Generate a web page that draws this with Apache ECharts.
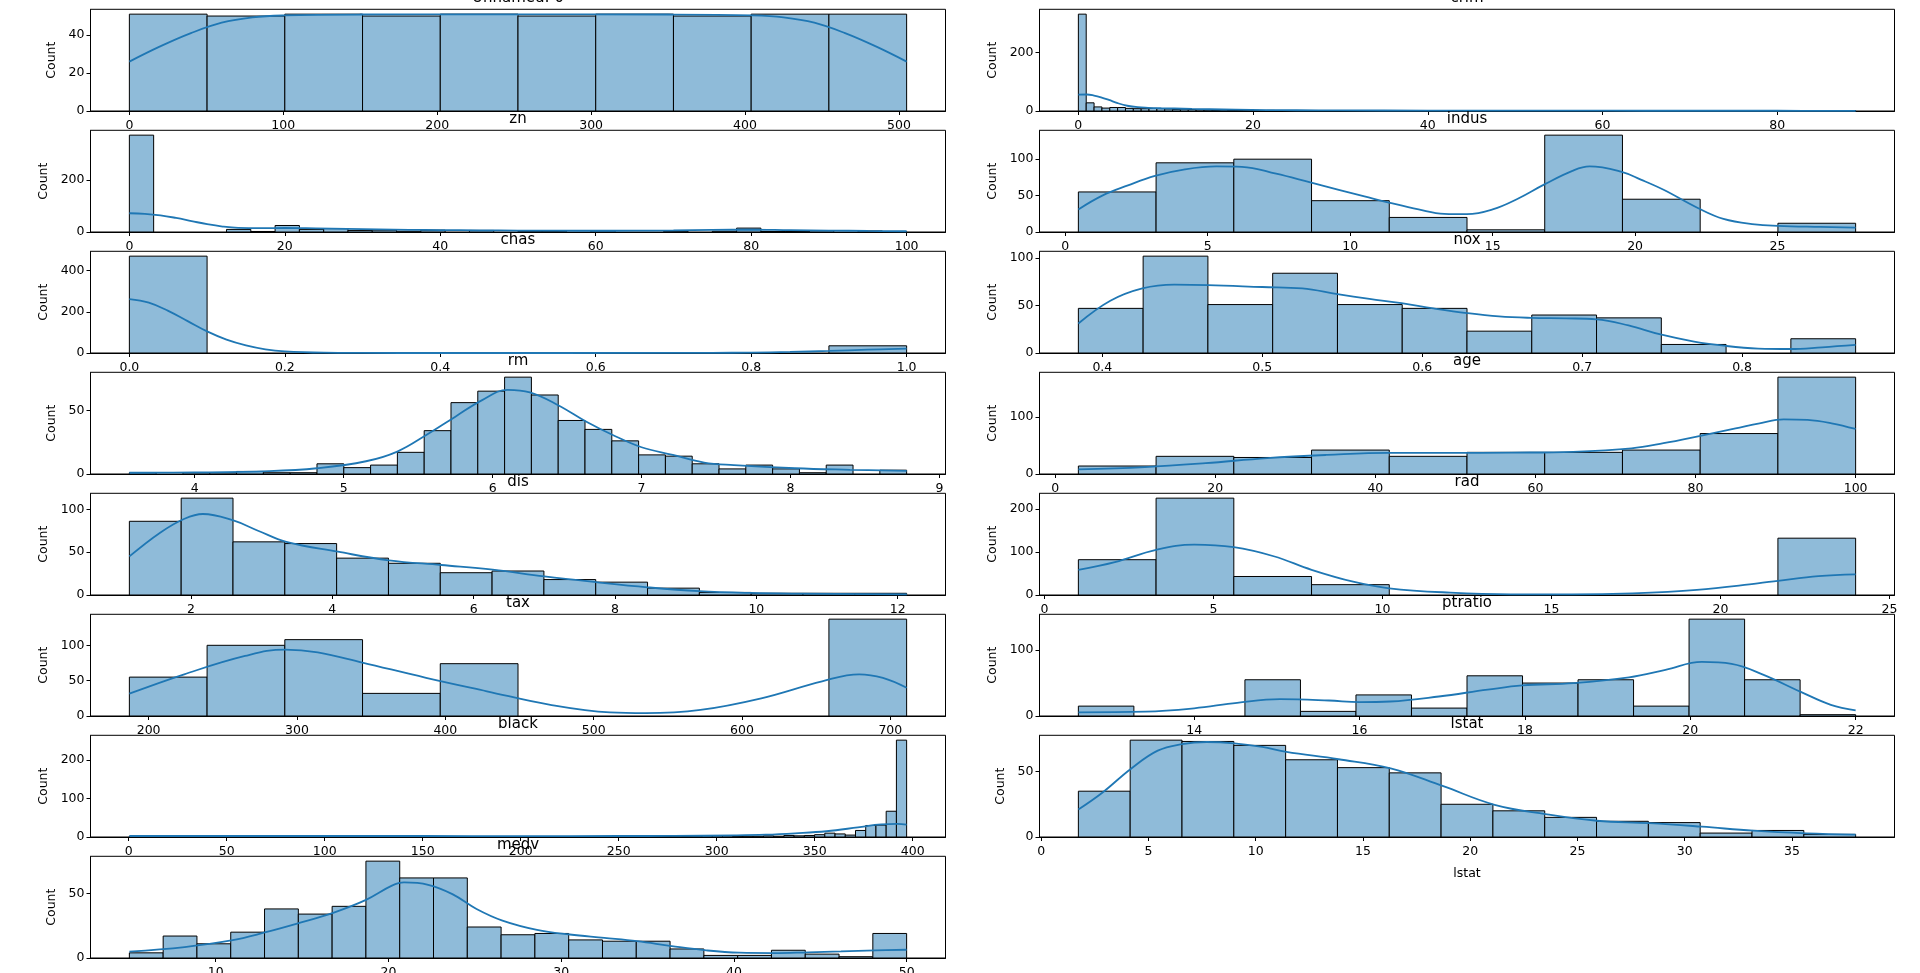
<!DOCTYPE html>
<html>
<head>
<meta charset="utf-8">
<title>Boston histograms</title>
<script src="https://cdn.jsdelivr.net/npm/echarts@6/dist/echarts.min.js"></script>
<style>
  html, body { margin: 0; padding: 0; background: #fff; }
  #chart { width: 1920px; height: 973px; }
</style>
</head>
<body>
<div id="chart"></div>
<script>
// data: [lo, hi] of the bins, bin counts, kde points, ticks
const unnamedRange = [0, 505]
const unnamedCounts = [51, 50, 51, 50, 51, 50, 51, 50, 51, 51]
const unnamedKde = [[0, 26], [20, 34], [40, 41], [60, 46.5], [80, 49.3], [100, 50.3], [150, 50.8], [250, 50.9], [350, 50.8], [405, 50.3], [425, 49.3], [445, 46.5], [465, 41], [485, 34], [505, 26]]
const unnamedXTicks = [0, 100, 200, 300, 400, 500]
const unnamedYTicks = [0, 20, 40]

const crimRange = [0.00632, 88.9762]
const crimCounts = [
  332, 28, 14, 10, 12, 12, 9, 8, 8, 9,
  8, 7, 5, 6, 5, 4, 3, 2, 3, 2,
  2, 1, 2, 1, 2, 1, 0, 1, 1, 0,
  0, 0, 0, 0, 0, 0, 0, 0, 0, 0,
  0, 1, 1, 0, 0, 1, 0, 0, 0, 0,
  1, 0, 0, 0, 0, 0, 1, 0, 0, 0,
  0, 0, 0, 0, 0, 0, 0, 0, 0, 0,
  0, 0, 0, 0, 0, 1, 0, 0, 0, 0,
  0, 0, 1, 0, 0, 0, 0, 0, 0, 0,
  0, 0, 0, 0, 0, 0, 0, 0, 1
]
const crimKde = [[0.006, 56], [1, 56.5], [1.8, 53], [2.6, 47], [3.5, 38], [4.5, 27], [5.6, 18], [6.8, 13], [8, 11], [9.5, 9.5], [11, 8.5], [13, 7], [15, 6], [18, 4.5], [21.6, 3.2], [25, 2.6], [30, 2], [40, 1.5], [50, 1.2], [60, 1], [70, 0.9], [80, 0.8], [88.98, 0.7]]
const crimXTicks = [0, 20, 40, 60, 80]
const crimYTicks = [0, 200]

const znRange = [0, 100]
const znCounts = [372, 0, 0, 0, 10, 2, 25, 10, 13, 6, 7, 3, 7, 0, 6, 0, 3, 3, 0, 4, 0, 0, 3, 0, 3, 15, 2, 2, 5, 0, 4, 1]
const znKde = [[0, 72], [2, 70], [4, 64], [6, 54], [8, 42], [10, 30], [12, 21], [14, 16], [17, 15], [20, 15.5], [24, 14], [28, 12], [32, 10], [36, 8.5], [40, 7.5], [45, 6.5], [50, 5.5], [55, 5], [60, 4.8], [65, 5], [70, 6], [75, 8], [80, 9], [85, 7], [90, 5.5], [95, 4], [100, 2.8]]
const znXTicks = [0, 20, 40, 60, 80, 100]
const znYTicks = [0, 200]

const indusRange = [0.46, 27.74]
const indusCounts = [55, 95, 100, 43, 20, 3, 133, 45, 0, 12]
const indusKde = [[0.46, 31], [1.3, 50], [2.2, 64], [3.15, 77], [4.2, 86], [5.3, 90], [6.2, 89.5], [7.4, 80], [8.6, 68], [9.6, 58], [10.5, 49], [11.4, 40], [12.4, 31], [13.3, 25], [14.1, 24.5], [15, 31], [15.9, 46], [16.8, 65], [17.8, 84], [18.4, 90], [19.5, 83], [20.2, 72], [21, 58], [22.2, 33], [23.1, 18], [24.2, 10.5], [25, 8.5], [26.5, 7], [27.74, 6]]
const indusXTicks = [0, 5, 10, 15, 20, 25]
const indusYTicks = [0, 50, 100]

const chasRange = [0, 1]
const chasCounts = [471, 0, 0, 0, 0, 0, 0, 0, 0, 35]
const chasKde = [[0, 262], [0.025, 245], [0.05, 205], [0.075, 155], [0.1, 105], [0.125, 65], [0.15, 37], [0.175, 18], [0.2, 8], [0.25, 1.5], [0.3, 0.3], [0.4, 0], [0.7, 0.2], [0.75, 0.7], [0.8, 2], [0.85, 5], [0.9, 10], [0.95, 16], [1, 21]]
const chasXTicks = [0, 0.2, 0.4, 0.6, 0.8, 1.0]
const chasYTicks = [0, 200, 400]

const noxRange = [0.385, 0.871]
const noxCounts = [47, 102, 51, 84, 51, 47, 23, 40, 37, 9, 0, 15]
const noxKde = [[0.385, 31], [0.405, 55], [0.425, 68], [0.445, 72], [0.466, 71.5], [0.5, 69.5], [0.525, 68], [0.547, 62], [0.567, 57], [0.587, 52.5], [0.607, 47], [0.628, 42], [0.648, 38.5], [0.668, 37], [0.69, 36.5], [0.709, 35.5], [0.729, 29], [0.749, 19.5], [0.77, 12], [0.79, 7.4], [0.81, 4.7], [0.83, 4.2], [0.85, 6], [0.871, 8.5]]
const noxXTicks = [0.4, 0.5, 0.6, 0.7, 0.8]
const noxYTicks = [0, 50, 100]

const rmRange = [3.561, 8.78]
const rmCounts = [1, 0, 1, 1, 2, 1, 1, 8, 5, 7, 17, 34, 56, 65, 76, 62, 42, 35, 26, 15, 14, 8, 4, 7, 4, 1, 7, 0, 3]
const rmKde = [[3.561, 1], [4, 1.2], [4.5, 2.2], [4.82, 4.5], [5.15, 10], [5.36, 17.6], [5.56, 31], [5.75, 45], [5.93, 58], [6.1, 66], [6.25, 64], [6.44, 54], [6.63, 41], [6.8, 31], [7.0, 21], [7.21, 15], [7.42, 9], [7.62, 7], [8.03, 4.5], [8.4, 3.3], [8.78, 2.4]]
const rmXTicks = [4, 5, 6, 7, 8, 9]
const rmYTicks = [0, 50]

const ageRange = [2.9, 100]
const ageCounts = [14, 31, 29, 42, 31, 38, 38, 42, 71, 170]
const ageKde = [[2.9, 8], [11.2, 12], [18.8, 19], [26.5, 28], [34, 33.5], [41.7, 37], [49.4, 37], [57, 37.5], [64.7, 39], [72, 45], [76, 54], [80.6, 67], [85, 80], [88, 89], [91, 96], [94, 95], [97, 89], [100, 79]]
const ageXTicks = [0, 20, 40, 60, 80, 100]
const ageYTicks = [0, 100]

const disRange = [1.1296, 12.1265]
const disCounts = [86, 113, 62, 60, 43, 37, 26, 28, 18, 15, 8, 3, 2, 2, 2]
const disKde = [[1.13, 45], [1.57, 73], [1.91, 89], [2.17, 94.5], [2.6, 87], [2.95, 75], [3.35, 62], [4.08, 50.5], [4.8, 40.5], [5.54, 35], [6.27, 29.6], [7.0, 21.7], [7.73, 15], [8.46, 9], [9.19, 4.5], [9.92, 2.4], [10.65, 1.6], [12.13, 0.8]]
const disXTicks = [2, 4, 6, 8, 10, 12]
const disYTicks = [0, 50, 100]

const radRange = [1, 24]
const radCounts = [82, 225, 43, 24, 0, 0, 0, 0, 0, 132]
const radKde = [[1, 58.6], [2.08, 76.5], [3.3, 105], [4.43, 117], [5.6, 111], [6.78, 90], [7.9, 58.6], [9.13, 31], [10.2, 15.6], [12, 5.5], [13.8, 1.6], [15.6, 1.5], [17.4, 4], [19.3, 12], [21.1, 27], [21.7, 33], [22.9, 44], [24, 48]]
const radXTicks = [0, 5, 10, 15, 20, 25]
const radYTicks = [0, 100, 200]

const taxRange = [187, 711]
const taxCounts = [55, 100, 108, 32, 74, 0, 0, 0, 0, 137]
const taxKde = [[187, 31.6], [224, 59], [265, 85], [292, 94], [314, 90], [344, 75.6], [387, 54], [428, 35], [470, 16], [511, 5], [535, 4], [572, 8.6], [613, 25], [654, 49], [679, 59], [695, 54], [711, 40]]
const taxXTicks = [200, 300, 400, 500, 600, 700]
const taxYTicks = [0, 50, 100]

const ptratioRange = [12.6, 22]
const ptratioCounts = [15, 0, 0, 55, 7, 32, 12, 61, 50, 55, 15, 147, 55, 2]
const ptratioKde = [[12.6, 5.6], [13.41, 6.6], [14.0, 11.7], [14.52, 20], [15.04, 25.5], [15.63, 23.5], [16.0, 21], [16.37, 22], [16.96, 29.6], [17.55, 40], [17.97, 46.4], [18.59, 50], [19.26, 58.7], [19.7, 70], [20.14, 82], [20.5, 79], [20.88, 62.8], [21.33, 37], [21.7, 17], [22.0, 8.7]]
const ptratioXTicks = [14, 16, 18, 20, 22]
const ptratioYTicks = [0, 100]

const blackRange = [0.32, 396.9]
const blackCounts = [
  2, 1, 1, 1, 1, 1, 0, 1, 0, 1,
  1, 0, 1, 1, 0, 1, 3, 1, 1, 0,
  1, 0, 1, 1, 0, 1, 1, 0, 1, 1,
  1, 0, 1, 1, 0, 1, 0, 1, 1, 1,
  0, 1, 1, 0, 1, 1, 1, 0, 1, 1,
  1, 1, 1, 2, 1, 2, 3, 3, 3, 1,
  2, 2, 3, 2, 4, 3, 4, 6, 10, 8,
  5, 17, 30, 31, 67, 252
]
const blackKde = [[0.32, 2.6], [50, 2.6], [100, 2.7], [150, 2.6], [200, 2.5], [250, 2.6], [278, 2.8], [309, 4.3], [325, 6], [340, 9.6], [356, 15], [372, 25], [384, 33], [392, 34], [396.9, 32]]
const blackXTicks = [0, 50, 100, 150, 200, 250, 300, 350, 400]
const blackYTicks = [0, 100, 200]

const lstatRange = [1.73, 37.97]
const lstatCounts = [35, 74, 73, 70, 59, 53, 49, 25, 20, 15, 12, 11, 3, 5, 2]
const lstatKde = [[1.73, 21], [2.86, 34], [4.17, 52], [5.43, 66], [6.57, 71], [7.71, 72.6], [9.0, 71.6], [10.3, 68.8], [11.43, 65], [13.86, 59.4], [16.29, 52.5], [18.71, 39], [21.14, 24.6], [23.51, 17.5], [25.9, 12.4], [28.37, 10.6], [30.8, 7.9], [33.2, 4.8], [35.66, 2.8], [37.97, 1.8]]
const lstatXTicks = [0, 5, 10, 15, 20, 25, 30, 35]
const lstatYTicks = [0, 50]

const medvRange = [5, 50]
const medvCounts = [4, 17, 11, 20, 38, 34, 40, 75, 62, 62, 24, 18, 19, 14, 13, 13, 7, 2, 2, 6, 3, 1, 19]
const medvKde = [[5, 5], [8.2, 8.5], [10.9, 13.6], [12.9, 20], [14.8, 27], [16.8, 35], [18.7, 45], [20.2, 56], [20.9, 58.5], [22.3, 56.7], [23.7, 49.5], [25.1, 38], [26.6, 29], [28.6, 21.8], [30.5, 18.2], [32.5, 15.6], [34.4, 13], [36.4, 9.2], [38.4, 5.9], [40.3, 4.1], [42.3, 3.8], [44.3, 4.4], [46.2, 5.1], [48.2, 5.9], [50, 6.4]]
const medvXTicks = [10, 20, 30, 40, 50]
const medvYTicks = [0, 50]

// panels in row-major order, two per row
const panels = [
  { name: 'Unnamed: 0', range: unnamedRange, counts: unnamedCounts, kde: unnamedKde, xTicks: unnamedXTicks, yTicks: unnamedYTicks, digits: 0 },
  { name: 'crim', range: crimRange, counts: crimCounts, kde: crimKde, xTicks: crimXTicks, yTicks: crimYTicks, digits: 0 },
  { name: 'zn', range: znRange, counts: znCounts, kde: znKde, xTicks: znXTicks, yTicks: znYTicks, digits: 0 },
  { name: 'indus', range: indusRange, counts: indusCounts, kde: indusKde, xTicks: indusXTicks, yTicks: indusYTicks, digits: 0 },
  { name: 'chas', range: chasRange, counts: chasCounts, kde: chasKde, xTicks: chasXTicks, yTicks: chasYTicks, digits: 1 },
  { name: 'nox', range: noxRange, counts: noxCounts, kde: noxKde, xTicks: noxXTicks, yTicks: noxYTicks, digits: 1 },
  { name: 'rm', range: rmRange, counts: rmCounts, kde: rmKde, xTicks: rmXTicks, yTicks: rmYTicks, digits: 0 },
  { name: 'age', range: ageRange, counts: ageCounts, kde: ageKde, xTicks: ageXTicks, yTicks: ageYTicks, digits: 0 },
  { name: 'dis', range: disRange, counts: disCounts, kde: disKde, xTicks: disXTicks, yTicks: disYTicks, digits: 0 },
  { name: 'rad', range: radRange, counts: radCounts, kde: radKde, xTicks: radXTicks, yTicks: radYTicks, digits: 0 },
  { name: 'tax', range: taxRange, counts: taxCounts, kde: taxKde, xTicks: taxXTicks, yTicks: taxYTicks, digits: 0 },
  { name: 'ptratio', range: ptratioRange, counts: ptratioCounts, kde: ptratioKde, xTicks: ptratioXTicks, yTicks: ptratioYTicks, digits: 0 },
  { name: 'black', range: blackRange, counts: blackCounts, kde: blackKde, xTicks: blackXTicks, yTicks: blackYTicks, digits: 0 },
  { name: 'lstat', range: lstatRange, counts: lstatCounts, kde: lstatKde, xTicks: lstatXTicks, yTicks: lstatYTicks, digits: 0, xLabel: 'lstat' },
  { name: 'medv', range: medvRange, counts: medvCounts, kde: medvKde, xTicks: medvXTicks, yTicks: medvYTicks, digits: 0 }
]

const FONT = 'DejaVu Sans'
const COL_LEFT = [90.5, 1039.5]
const GRID_W = 855
const GRID_H = 101.7
const ROW_TOP = 9.3
const ROW_STEP = 121

const chart = echarts.init(document.getElementById('chart'), null, { renderer: 'canvas' })

const option = {
  animation: false,
  backgroundColor: '#ffffff',
  grid: [],
  xAxis: [],
  yAxis: [],
  series: [],
  graphic: []
}

const labelStyle = { color: '#000', fontFamily: FONT, fontSize: 12.5 }

panels.forEach(function (p, i) {
  const row = Math.floor(i / 2)
  const left = COL_LEFT[i % 2]
  const top = ROW_TOP + row * ROW_STEP
  const lo = p.range[0], hi = p.range[1]
  const pad = (hi - lo) * 0.05
  const w = (hi - lo) / p.counts.length
  const bars = p.counts.map(function (c, k) { return [lo + k * w, lo + (k + 1) * w, c] })
  const ymax = Math.max.apply(null, p.counts.concat(p.kde.map(function (d) { return d[1] }))) * 1.05
  const wide = String(p.yTicks[p.yTicks.length - 1]).length >= 3

  // white face drawn over the tick labels of the panel above, as matplotlib does
  option.grid.push({
    left: left, top: top, width: GRID_W, height: GRID_H, z: 1,
    show: true, borderColor: '#000', borderWidth: 1, backgroundColor: '#fff',
    containLabel: false, outerBoundsMode: 'none'
  })

  option.xAxis.push({
    gridIndex: i, type: 'value', min: lo - pad, max: hi + pad, z: 0,
    axisLine: { show: true, onZero: false, lineStyle: { color: '#000', width: 1 } },
    axisTick: { show: true, length: 4, lineStyle: { color: '#000' }, customValues: p.xTicks },
    axisLabel: Object.assign({ customValues: p.xTicks, margin: 8, formatter: function (v) { return Number(v).toFixed(p.digits) } }, labelStyle),
    splitLine: { show: false },
    name: p.xLabel || '', nameLocation: 'middle', nameGap: 30,
    nameTextStyle: labelStyle
  })

  option.yAxis.push({
    gridIndex: i, type: 'value', min: 0, max: ymax, z: 0,
    axisLine: { show: true, onZero: false, lineStyle: { color: '#000', width: 1 } },
    axisTick: { show: true, length: 4, lineStyle: { color: '#000' }, customValues: p.yTicks },
    axisLabel: Object.assign({ customValues: p.yTicks, margin: 6 }, labelStyle),
    splitLine: { show: false },
    name: 'Count', nameLocation: 'middle', nameRotate: 90, nameGap: wide ? 40 : 32,
    nameTextStyle: labelStyle
  })

  // histogram bars
  option.series.push({
    type: 'custom', xAxisIndex: i, yAxisIndex: i, clip: true,
    data: bars,
    encode: { x: [0, 1], y: 2 },
    renderItem: function (params, api) {
      if (!api.value(2)) return null
      const p0 = api.coord([api.value(0), api.value(2)])
      const p1 = api.coord([api.value(1), 0])
      return {
        type: 'rect',
        shape: { x: p0[0], y: p0[1], width: p1[0] - p0[0], height: p1[1] - p0[1] },
        style: { fill: '#8fbbd9', stroke: '#000', lineWidth: 1 }
      }
    },
    z: 2
  })

  // kde
  option.series.push({
    type: 'line', xAxisIndex: i, yAxisIndex: i,
    data: p.kde, showSymbol: false, symbol: 'none',
    smooth: 0.4,
    lineStyle: { color: '#1f77b4', width: 1.8 },
    z: 3
  })

  option.graphic.push({
    type: 'text', x: left + GRID_W / 2, y: top - 4, z: 100,
    style: { text: p.name, fontFamily: FONT, fontSize: 15, fill: '#000', align: 'center', verticalAlign: 'bottom' }
  })
})

chart.setOption(option)
</script>
</body>
</html>
